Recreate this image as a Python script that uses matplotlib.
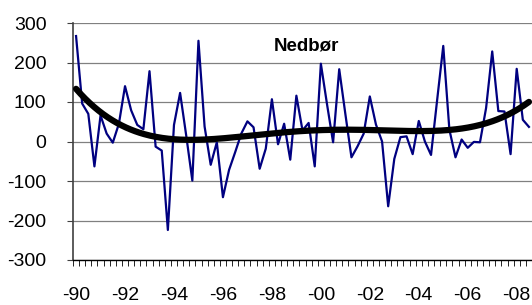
import numpy as np
import matplotlib
matplotlib.use('Agg')
import matplotlib.pyplot as plt

plt.rcParams['font.family'] = ['Liberation Sans', 'DejaVu Sans']

# quarterly precipitation deviation, 1990 Q1 onwards
nedbor = [267, 96, 70, -63, 66, 20, -3, 45, 140, 79, 42, 31, 178, -13, -23,
          -224, 42, 123, 15, -99, 255, 38, -59, -2, -141, -72, -27, 20, 51,
          36, -69, -18, 107, -7, 45, -46, 116, 28, 47, -63, 197, 95, -2, 183,
          70, -40, -12, 20, 114, 43, 0, -164, -44, 11, 13, -32, 52, 0, -34,
          105, 242, 30, -40, 5, -16, -1, -2, 85, 228, 77, 76, -32, 184, 55, 37]
year_labels = ['-90', '-92', '-94', '-96', '-98', '-00', '-02', '-04', '-06', '-08']
y_ticks = [-300, -200, -100, 0, 100, 200, 300]

x = np.arange(len(nedbor))
# polynomial trend line, as in the spreadsheet
coef = np.polyfit(x, nedbor, 4)
xs = np.linspace(0, len(nedbor) - 1, 300)
trend = np.polyval(coef, xs)

fig = plt.figure(figsize=(5.32, 3.05), dpi=100)
ax = fig.add_axes([73 / 532, 45 / 305, 1 - 73 / 532, 237 / 305])

for v in y_ticks:
    ax.axhline(v, color='#808080', lw=0.9, zorder=1)

ax.plot(x, nedbor, color='#000080', lw=1.6, zorder=3)
ax.plot(xs, trend, color='black', lw=4.5, solid_capstyle='round', zorder=4)

ax.set_xlim(-0.5, 74.05)
ax.set_ylim(-300, 300)
ax.set_yticks(y_ticks)
ax.set_yticklabels([str(v) for v in y_ticks], fontsize=14)
ax.tick_params(axis='y', length=4, width=0.8, pad=15, color='#404040')

# quarter ticks on the boundaries, year labels on category centres
ax.set_xticks(np.arange(-0.5, len(nedbor), 1))
ax.set_xticklabels([])
ax.tick_params(axis='x', which='major', length=4, width=0.6, direction='out')
ax.set_xticks(np.arange(0, len(nedbor), 8), minor=True)
ax.set_xticklabels(year_labels, minor=True, fontsize=14)
ax.tick_params(axis='x', which='minor', length=0, pad=19.5)

for s in ['top', 'right']:
    ax.spines[s].set_visible(False)
ax.spines['left'].set_color('#404040')
ax.spines['left'].set_linewidth(1.2)
ax.spines['bottom'].set_color('black')
ax.spines['bottom'].set_linewidth(1.0)

fig.text(306 / 532, 1 - 46 / 305, 'Nedbør', fontsize=13.5, fontweight='bold',
         ha='center', va='center')

fig.savefig('out.png', dpi=100)
